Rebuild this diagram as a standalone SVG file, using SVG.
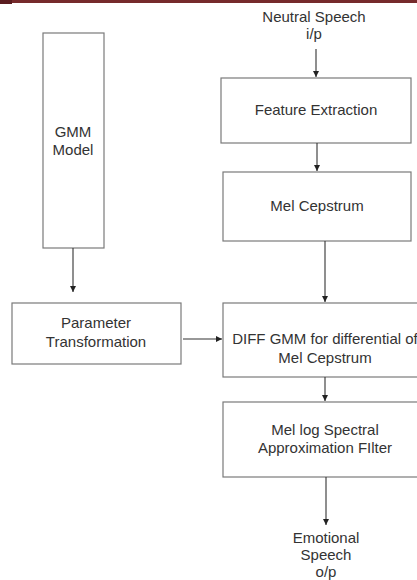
<svg xmlns="http://www.w3.org/2000/svg" width="417" height="580" viewBox="0 0 417 580">
<style>
.box{fill:#fff;stroke:#7a7a7a;stroke-width:1.2}
.t{font-family:"Liberation Sans",Arial,sans-serif;font-size:15px;fill:#333;text-anchor:middle}
.c{stroke:#333;stroke-width:1.1;fill:none;marker-end:url(#ah)}
</style>
<defs>
<marker id="ah" markerWidth="8" markerHeight="8" refX="6" refY="3" orient="auto" markerUnits="userSpaceOnUse">
<path d="M0,0 L6,3 L0,6 Z" fill="#222"/>
</marker>
</defs>
<rect width="417" height="580" fill="#fff"/>
<rect x="0" y="0" width="417" height="3" fill="#762a2c"/>
<rect x="0" y="0" width="12" height="4" fill="#5a1c1f"/>
<g id="n-neutral"><text class="t" x="314" y="22">Neutral Speech</text><text class="t" x="314" y="39">i/p</text></g>
<g id="n-gmm"><rect class="box" x="43" y="33" width="61" height="215"/><text class="t" x="73" y="137">GMM</text><text class="t" x="73" y="155">Model</text></g>
<g id="n-fe"><rect class="box" x="221" y="78" width="190" height="65"/><text class="t" x="316" y="115">Feature Extraction</text></g>
<g id="n-mel"><rect class="box" x="223" y="172" width="188" height="69"/><text class="t" x="317" y="211">Mel Cepstrum</text></g>
<g id="n-param"><rect class="box" x="12" y="303" width="169" height="61"/><text class="t" x="96" y="328">Parameter</text><text class="t" x="96" y="347">Transformation</text></g>
<g id="n-diff"><rect class="box" x="223" y="303" width="200" height="74"/><text class="t" x="325" y="344">DIFF GMM for differential of</text><text class="t" x="325" y="363">Mel Cepstrum</text></g>
<g id="n-mlsa"><rect class="box" x="223" y="402" width="200" height="75"/><text class="t" x="325" y="435">Mel log Spectral</text><text class="t" x="325" y="453">Approximation FIlter</text></g>
<g id="n-emo"><text class="t" x="326" y="543">Emotional</text><text class="t" x="326" y="560">Speech</text><text class="t" x="326" y="577">o/p</text></g>
<g id="connectors">
<line class="c" x1="316" y1="49" x2="316" y2="77"/>
<line class="c" x1="317" y1="143" x2="317" y2="171"/>
<line class="c" x1="325" y1="241" x2="325" y2="302"/>
<line class="c" x1="73" y1="248" x2="73" y2="292"/>
<line class="c" x1="183" y1="339" x2="222" y2="339"/>
<line class="c" x1="325" y1="377" x2="325" y2="401"/>
<line class="c" x1="326" y1="477" x2="326" y2="525"/>
</g>
</svg>
